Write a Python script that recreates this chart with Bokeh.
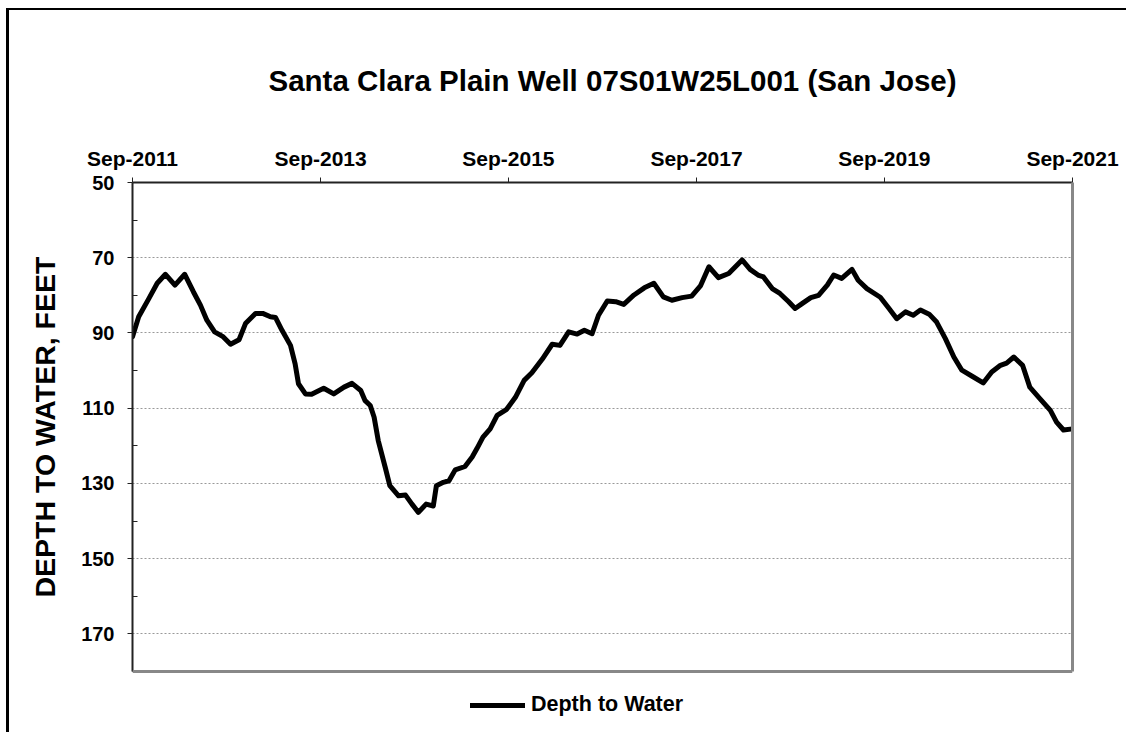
import pandas as pd
from bokeh.plotting import figure
from bokeh.models import (Range1d, FixedTicker, DatetimeTickFormatter, Title, Span,
                          Legend, LegendItem, ColumnDataSource, LinearAxis)
from bokeh.embed import file_html
from bokeh.resources import INLINE

# ---------------- data ----------------
dates = [
    "2011-09-01", "2011-09-25", "2011-11-04", "2011-12-06", "2012-01-07", "2012-02-13",
    "2012-03-22", "2012-04-25", "2012-05-22", "2012-06-16", "2012-07-16", "2012-08-16",
    "2012-09-16", "2012-10-19", "2012-11-13", "2012-12-22", "2013-01-19", "2013-02-18",
    "2013-03-10", "2013-04-04", "2013-05-07", "2013-05-25", "2013-06-07", "2013-07-04",
    "2013-07-28", "2013-09-13", "2013-10-22", "2013-12-01", "2014-01-01", "2014-02-04",
    "2014-02-21", "2014-03-13", "2014-03-28", "2014-04-13", "2014-05-10", "2014-05-28",
    "2014-07-01", "2014-07-28", "2014-08-22", "2014-09-16", "2014-10-16", "2014-11-13",
    "2014-11-25", "2014-12-22", "2015-01-13", "2015-02-06", "2015-03-16", "2015-04-13",
    "2015-05-01", "2015-05-25", "2015-06-22", "2015-07-19", "2015-08-25", "2015-09-28",
    "2015-11-01", "2015-12-01", "2016-01-10", "2016-02-18", "2016-03-19", "2016-04-22",
    "2016-05-25", "2016-06-22", "2016-07-22", "2016-08-16", "2016-09-19", "2016-10-22",
    "2016-11-22", "2017-01-01", "2017-02-10", "2017-03-19", "2017-04-25", "2017-05-28",
    "2017-07-07", "2017-08-13", "2017-09-16", "2017-10-19", "2017-11-25", "2018-01-04",
    "2018-02-25", "2018-03-28", "2018-04-28", "2018-05-19", "2018-06-22", "2018-07-22",
    "2018-08-25", "2018-09-19", "2018-10-16", "2018-11-19", "2018-12-19", "2019-01-22",
    "2019-02-16", "2019-03-19", "2019-04-28", "2019-05-22", "2019-06-25", "2019-08-16",
    "2019-09-19", "2019-10-19", "2019-11-22", "2019-12-22", "2020-01-19", "2020-02-22",
    "2020-03-22", "2020-04-25", "2020-05-28", "2020-06-28", "2020-08-07", "2020-09-19",
    "2020-10-22", "2020-11-25", "2020-12-19", "2021-01-16", "2021-02-19", "2021-03-19",
    "2021-04-28", "2021-06-07", "2021-07-01", "2021-07-28", "2021-09-01",
]
depth_to_water = [
    91.0, 85.7, 80.8, 76.8, 74.4, 77.3,
    74.4, 79.1, 82.6, 86.6, 89.7, 90.9,
    93.0, 91.8, 87.5, 84.8, 84.8, 85.7,
    85.9, 89.3, 93.3, 98.2, 103.5, 106.2,
    106.3, 104.7, 106.2, 104.4, 103.4, 105.3,
    108.0, 109.3, 112.4, 118.6, 125.7, 130.6,
    133.3, 133.1, 135.5, 137.7, 135.5, 136.0,
    130.6, 129.7, 129.3, 126.4, 125.5, 123.0,
    120.8, 117.7, 115.5, 111.9, 110.3, 107.1,
    102.6, 100.6, 97.0, 93.0, 93.3, 89.7,
    90.3, 89.3, 90.2, 85.3, 81.5, 81.7,
    82.4, 79.9, 78.0, 76.8, 80.4, 81.3,
    80.6, 80.2, 77.5, 72.4, 75.3, 74.2,
    70.6, 73.1, 74.6, 75.1, 78.2, 79.5,
    81.7, 83.5, 82.2, 80.6, 80.0, 77.3,
    74.6, 75.5, 73.1, 76.0, 78.2, 80.5,
    83.5, 86.2, 84.4, 85.3, 83.9, 85.0,
    87.1, 91.5, 96.4, 99.9, 101.5, 103.3,
    100.4, 98.6, 98.0, 96.4, 98.6, 104.4,
    107.5, 110.6, 113.7, 115.8, 115.5,
]
title_text = "Santa Clara Plain Well 07S01W25L001  (San Jose)"
y_label = "DEPTH TO WATER, FEET"
series_name = "Depth to Water"
x_tick_dates = ["2011-09-01", "2013-09-01", "2015-09-01", "2017-09-01", "2019-09-01", "2021-09-01"]
y_ticks = [50, 70, 90, 110, 130, 150, 170]
y_minor_ticks = [60, 80, 100, 120, 140, 160, 180]
y_top, y_bottom = 50, 180

FONT = "Liberation Sans"

# layout (pixels)
FIG_W, FIG_H = 1120, 724
B_LEFT, B_TOP, B_RIGHT = 123, 172, 57
PLOT_H = 489                     # pixel height of the 50..180 region
LEGEND_SPACE = FIG_H - B_TOP - PLOT_H   # room under the plot box for the legend
y_extra = LEGEND_SPACE * (y_bottom - y_top) / PLOT_H

src = ColumnDataSource(dict(t=pd.to_datetime(dates), d=depth_to_water))
x_ticks_ms = [pd.Timestamp(d).value // 10**6 for d in x_tick_dates]

p = figure(width=FIG_W, height=FIG_H, x_axis_type="datetime", x_axis_location="above",
           x_range=Range1d(x_ticks_ms[0], x_ticks_ms[-1]),
           y_range=Range1d(y_bottom + y_extra, y_top),
           output_backend="svg", toolbar_location=None,
           min_border_left=B_LEFT, min_border_top=B_TOP, min_border_right=B_RIGHT,
           min_border_bottom=0)
p.styles = {"margin-left": "6px", "margin-top": "8px",
            "border-left": "3px solid black", "border-top": "2px solid black"}

p.title = Title(text=title_text, align="left", offset=136, standoff=93,
                text_font=FONT, text_font_size="29.5px", text_font_style="bold",
                text_color="black")

# vertical axis title, centred on the plotted depth range
p.add_layout(Title(text=y_label, align="left", offset=LEGEND_SPACE + 74, standoff=35,
                   text_font=FONT, text_font_size="28.5px", text_font_style="bold",
                   text_color="black"), "left")

p.background_fill_color = "white"
p.border_fill_color = "white"
p.outline_line_color = None

# x axis (top)
xa = p.xaxis[0]
xa.ticker = FixedTicker(ticks=x_ticks_ms)
fmt = "%b-%Y"
xa.formatter = DatetimeTickFormatter(years=fmt, months=fmt, days=fmt, hours=fmt,
                                     hourmin=fmt, minutes=fmt, minsec=fmt, seconds=fmt,
                                     milliseconds=fmt, microseconds=fmt)
xa.major_tick_out = 5
xa.major_tick_in = 0
xa.minor_tick_line_color = None
xa.major_label_standoff = 8
xa.major_label_text_font = FONT
xa.major_label_text_font_size = "21px"
xa.major_label_text_font_style = "bold"
xa.major_label_text_color = "black"
xa.axis_line_color = "#222222"
xa.axis_line_width = 2
xa.major_tick_line_color = "#222222"

# y axis (left)
ya = p.yaxis[0]
ya.bounds = (y_top, y_bottom)
ya.ticker = FixedTicker(ticks=y_ticks, minor_ticks=y_minor_ticks)
ya.major_tick_out = 5
ya.major_tick_in = 0
ya.minor_tick_in = 5
ya.minor_tick_out = 0
ya.major_label_standoff = 13
ya.major_label_text_font = FONT
ya.major_label_text_font_size = "20px"
ya.major_label_text_font_style = "bold"
ya.major_label_text_color = "black"
ya.axis_line_color = "#222222"
ya.axis_line_width = 2
ya.major_tick_line_color = "#222222"
ya.minor_tick_line_color = "#222222"

# right edge of the plot box (gray), limited to the plotted depth range
right_edge = LinearAxis(bounds=(y_top, y_bottom), ticker=FixedTicker(ticks=[]),
                        axis_line_color="#888888", axis_line_width=3,
                        major_tick_line_color=None, minor_tick_line_color=None,
                        major_label_text_font_size="0px")
p.add_layout(right_edge, "right")
# bottom edge of the plot box (gray)
p.add_layout(Span(location=y_bottom, dimension="width", line_color="#888888", line_width=3))

p.xgrid.visible = False
p.ygrid.ticker = FixedTicker(ticks=y_ticks[1:])
p.ygrid.grid_line_color = "#999999"
p.ygrid.grid_line_width = 1
p.ygrid.grid_line_dash = "2 2"

r = p.line("t", "d", source=src, line_width=5, line_color="black", line_join="round", line_cap="round")

legend = Legend(items=[LegendItem(label=series_name, renderers=[r])],
                location=(338, LEGEND_SPACE - 26 - 20), orientation="horizontal",
                glyph_width=55, glyph_height=20, label_height=20, label_standoff=6,
                padding=0, margin=0, spacing=0,
                border_line_color=None, background_fill_alpha=0,
                label_text_font=FONT, label_text_font_size="21.5px",
                label_text_font_style="bold", label_text_color="black")
p.add_layout(legend, "center")

open("out.html", "w").write(file_html(p, INLINE))
